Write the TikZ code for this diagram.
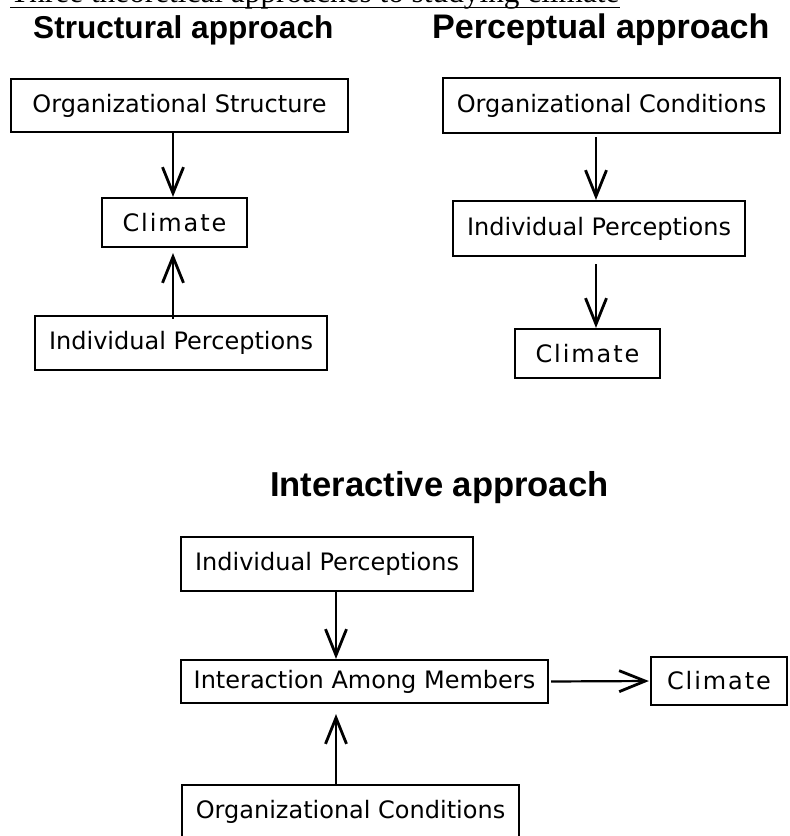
\documentclass[tikz,border=0pt]{standalone}
\usepackage{fontspec}
\newfontfamily\boxfont{DejaVu Sans}
\newfontfamily\climfont{DejaVu Sans}[LetterSpace=8]
\newfontfamily\headfont{Liberation Sans}
\newfontfamily\titlefont{Liberation Serif}
\usetikzlibrary{arrows.meta}
\tikzset{
  >={Straight Barb[length=26pt,width=21pt,line width=2.8pt]},
  box/.style={draw, line width=2.2pt, inner sep=0pt, minimum height=54pt,
    font=\boxfont\fontsize{24}{28}\selectfont},
  climbox/.style={box, minimum width=145pt, minimum height=49pt,
    font=\climfont\fontsize{24}{28}\selectfont},
  heading/.style={anchor=base west, inner sep=0pt},
  flow/.style={line width=2.2pt, ->}
}

\begin{document}
\begin{tikzpicture}[x=1pt,y=-1pt]
  \useasboundingbox (0,0) rectangle (790,836);
  % title and headings
  \node[heading, font=\titlefont\fontsize{31.3}{36}\selectfont] (title) at (10,2.5)
    {Three theoretical approaches to studying climate};
  \draw[line width=1.5pt] ([yshift=-5pt]title.base west) -- ([yshift=-5pt]title.base east);
  \node[heading, font=\headfont\bfseries\fontsize{31.6}{36}\selectfont] (hstruct) at (33,38) {Structural approach};
  \node[heading, font=\headfont\bfseries\fontsize{34.1}{38}\selectfont] (hpercep) at (432,38) {Perceptual approach};
  \node[heading, font=\headfont\bfseries\fontsize{34.6}{38}\selectfont] (hinter) at (270,496) {Interactive approach};

  % structural approach
  \coordinate (sx) at (173,0);
  \node[box, minimum width=337pt, minimum height=53pt] (sorg) at (179.5,105.5) {Organizational Structure};
  \node[climbox] (sclim) at (174.5,222.5) {Climate};
  \node[box, minimum width=292pt] (sind) at (181,343) {Individual Perceptions};
  \draw[flow] (sorg.south -| sx) -- (sclim.north -| sx);
  \draw[flow, shorten <=-4pt, shorten >=5pt] (sind.north -| sx) -- (sclim.south -| sx);

  % perceptual approach
  \coordinate (px) at (596,0);
  \node[box, minimum width=337pt, minimum height=55pt] (porg) at (611.5,105.5) {Organizational Conditions};
  \node[box, minimum width=292pt, minimum height=55pt] (pind) at (599,228.5) {Individual Perceptions};
  \node[climbox] (pclim) at (587.5,353.5) {Climate};
  \draw[flow, shorten <=3pt] (porg.south -| px) -- (pind.north -| px);
  \draw[flow, shorten <=7pt] (pind.south -| px) -- (pclim.north -| px);

  % interactive approach
  \coordinate (ix) at (336,0);
  \node[box, minimum width=292pt] (iind) at (327,564) {Individual Perceptions};
  \node[box, minimum width=367pt, minimum height=43pt] (iinter) at (364.5,681.5) {Interaction Among Members};
  \node[box, minimum width=337pt, minimum height=53pt] (iorg) at (350.5,811.5) {Organizational Conditions};
  \node[climbox, minimum width=136pt, minimum height=48pt] (iclim) at (719,681) {Climate};
  \draw[flow] (iind.south -| ix) -- (iinter.north -| ix);
  \draw[flow, shorten <=-2pt, shorten >=10pt] (iorg.north -| ix) -- (iinter.south -| ix);
  \draw[flow, shorten <=2pt, shorten >=1pt] (iinter.east) -- (iclim.west);
\end{tikzpicture}
\end{document}
